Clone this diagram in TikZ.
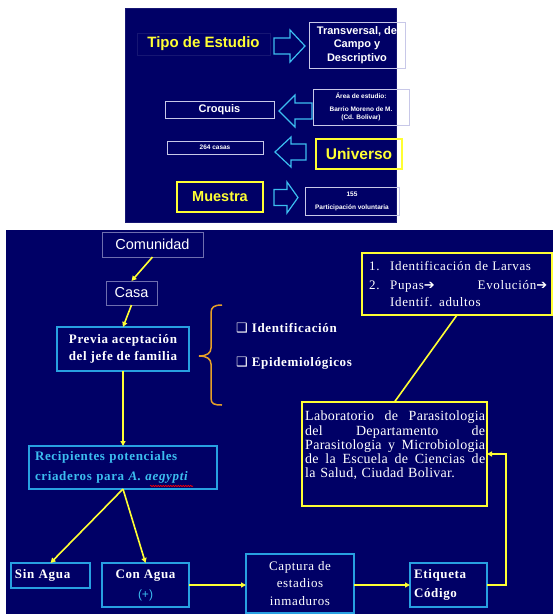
\documentclass[tikz,border=0pt]{standalone}
\usepackage{fontspec}
\setmainfont{Liberation Serif}
\newfontfamily\arialf{Liberation Sans}
\newfontfamily\dejavuf{DejaVu Sans}
\newfontfamily\spfont{Liberation Serif}[LetterSpace=5]
\newfontfamily\labfont{Liberation Serif}[LetterSpace=2]
\usetikzlibrary{arrows.meta,decorations.pathmorphing}
\definecolor{navy}{RGB}{0,0,102}
\definecolor{cyanb}{RGB}{40,160,225}
\definecolor{ctext}{RGB}{60,190,240}
\definecolor{ylw}{RGB}{255,255,51}
\definecolor{lav}{RGB}{200,200,232}
\definecolor{gblue}{RGB}{110,110,175}
\definecolor{orng}{RGB}{230,160,40}
\definecolor{arrcyan}{RGB}{60,190,240}
\definecolor{faint}{RGB}{22,22,115}
\tikzset{
  box/.style={draw, rectangle, inner sep=0pt, outer sep=0pt, align=center, text=white},
  topbox/.style={box, draw=lav, line width=1pt},
  ybox/.style={box, draw=ylw, line width=1.2pt},
  cbox/.style={box, draw=cyanb, line width=1.2pt},
  gbox/.style={box, draw=gblue, line width=1pt},
  ybig/.style={box, draw=ylw, line width=2.5pt},
  blockarrow/.style={draw=arrcyan, line width=1.2pt, fill=navy, line join=miter},
  conn/.style={draw=ylw, line width=1.6pt, -{Triangle[length=5pt,width=5pt]}},
  plainconn/.style={draw=ylw, line width=1.6pt},
  panel/.style={fill=navy, draw=faint, line width=0.6pt}
}
\newcommand{\heavyarrow}{{\dejavuf\bfseries\fontsize{13}{14}\selectfont ➔}}
\newcommand{\hollowbox}{{\dejavuf\mdseries\fontsize{13}{14}\selectfont ❑}}
\begin{document}
\begin{tikzpicture}[x=1pt,y=-1pt]
\useasboundingbox (0,0) rectangle (553,614);
\fill[white] (0,0) rectangle (553,614);
% ---------- top panel ----------
\path[panel] (125,8) rectangle (396,222);
\node[box, draw=faint, line width=0.6pt, minimum width=133, minimum height=22, text=ylw,
      font=\arialf\bfseries\fontsize{15}{18}\selectfont] (tipo) at (203.5,44) {Tipo de Estudio};
\path[blockarrow] (274,38) -- (290,38) -- (290,30) -- (305,46) -- (290,62) -- (290,54) -- (274,54) -- cycle;
\node[topbox, minimum width=96, minimum height=46, font=\arialf\bfseries\fontsize{11}{13.5}\selectfont] (transv) at (357,45)
  {Transversal, de\\Campo y\\Descriptivo};
\node[topbox, minimum width=96, minimum height=36, font=\arialf\bfseries\fontsize{6.5}{8}\selectfont] (area) at (361,107)
  {Área de estudio:\\[5pt]Barrio Moreno de M.\\(Cd. Bolivar)};
\path[blockarrow] (279,111) -- (295,95) -- (295,103) -- (312,103) -- (312,119) -- (295,119) -- (295,127) -- cycle;
\node[topbox, minimum width=109, minimum height=17, font=\arialf\bfseries\fontsize{11}{13}\selectfont] (croquis) at (219.5,109.5)
  {Croquis};
\node[topbox, minimum width=96, minimum height=13, font=\arialf\bfseries\fontsize{6.5}{8}\selectfont] (casas) at (215,147.5)
  {264 casas};
\path[blockarrow] (275,152) -- (291,137) -- (291,144) -- (306,144) -- (306,160) -- (291,160) -- (291,167) -- cycle;
\node[ybox, minimum width=86, minimum height=30, text=ylw, font=\arialf\bfseries\fontsize{15.5}{18}\selectfont] (universo) at (359,154)
  {Universo};
\node[ybox, minimum width=86, minimum height=30, text=ylw, font=\arialf\bfseries\fontsize{14.5}{17}\selectfont] (muestra) at (220,197)
  {Muestra};
\path[blockarrow] (274,189.5) -- (287,189.5) -- (287,182) -- (298,197.5) -- (287,213) -- (287,205.5) -- (274,205.5) -- cycle;
\node[topbox, minimum width=94, minimum height=28, font=\arialf\bfseries\fontsize{6.5}{8}\selectfont] (particip) at (352,201)
  {155\\[5pt]Participación voluntaria};
% ---------- bottom panel ----------
\fill[navy] (6,230) rectangle (553,614);
\node[gbox, minimum width=101, minimum height=25, font=\arialf\fontsize{14.5}{17}\selectfont] (comunidad) at (152.5,244.5)
  {Comunidad};
\node[gbox, minimum width=51, minimum height=24, font=\arialf\fontsize{14.5}{17}\selectfont] (casa) at (131.5,293)
  {Casa};
\node[cbox, minimum width=132, minimum height=44, font=\spfont\bfseries\fontsize{13}{17.5}\selectfont] (previa) at (123,349)
  {Previa aceptación\\del jefe de familia};
\draw[orng, line width=1.5pt]
  (222,305) .. controls (214,305) and (211,307) .. (211,313) -- (211,348)
  .. controls (211,353) and (207,356) .. (199,356)
  .. controls (207,356) and (211,359) .. (211,364) -- (211,398)
  .. controls (211,404) and (214,405) .. (222,405);
\node[anchor=west, text=white, inner sep=0pt, font=\spfont\bfseries\fontsize{13}{15}\selectfont] (ident) at (236,328)
  {\hollowbox\hspace{4pt}Identificación};
\node[anchor=west, text=white, inner sep=0pt, font=\spfont\bfseries\fontsize{13}{15}\selectfont] (epid) at (236,363)
  {\hollowbox\hspace{4pt}Epidemiológicos};
\node[ybig, minimum width=190, minimum height=62] (identif) at (457,284) {};
\node[anchor=north west, inner sep=0pt, text=white, text width=180, align=left,
      font=\spfont\fontsize{13}{17}\selectfont] (identiftxt) at ([xshift=7pt,yshift=-8pt]identif.north west)
  {\makebox[21pt][l]{1.}Identificación de Larvas\\[2pt]
   \makebox[21pt][l]{2.}\makebox[157pt][l]{Pupas\heavyarrow\hfill Evolución\heavyarrow}\\
   \hspace*{21pt}Identif. adultos};
\node[ybig, minimum width=185, minimum height=104] (lab) at (394.5,454) {};
\node[anchor=north west, inner sep=0pt, text=white, text width=180, align=left,
      font=\labfont\fontsize{14}{14.2}\selectfont] (labtxt) at ([xshift=3pt,yshift=-9pt]lab.north west)
  {\makebox[180pt][l]{Laboratorio\hfill de\hfill Parasitologia}\\
   \makebox[180pt][l]{del\hfill Departamento\hfill de}\\
   \makebox[180pt][l]{Parasitologia\hfill y\hfill Microbiologia}\\
   \makebox[180pt][l]{de\hfill la\hfill Escuela\hfill de\hfill Ciencias\hfill de}\\
   la Salud, Ciudad Bolivar.};
\node[cbox, minimum width=188, minimum height=43, text width=176, inner xsep=6pt, align=left, text=ctext,
      font=\spfont\bfseries\fontsize{13}{20}\selectfont] (recip) at (123,467.5)
  {Recipientes potenciales\\criaderos para \textit{A. aegypti}};
\node[cbox, minimum width=79, minimum height=25, text width=71, inner xsep=4pt, align=left,
      font=\spfont\bfseries\fontsize{13}{15}\selectfont] (sin) at (50.5,575.5)
  {Sin Agua};
\node[cbox, minimum width=87, minimum height=44, font=\spfont\bfseries\fontsize{13}{20}\selectfont] (con) at (145.5,585)
  {Con Agua\\{\arialf\mdseries\color{ctext}\fontsize{12}{14}\selectfont(+)}};
\node[cbox, minimum width=108, minimum height=59, font=\spfont\fontsize{13}{17.5}\selectfont] (captura) at (300,583.5)
  {Captura de\\estadios\\inmaduros};
\node[cbox, minimum width=77, minimum height=44, text width=69, inner xsep=4pt, align=left,
      font=\spfont\bfseries\fontsize{13}{19}\selectfont] (etiq) at (448.5,585)
  {Etiqueta\\Código};
% red spell-check underline
\draw[red, line width=0.6pt, decorate, decoration={snake, amplitude=0.7pt, segment length=2.5pt}] (150,486) -- (193,486);
% ---------- connectors ----------
\draw[conn] (comunidad.south) -- (casa.north);
\draw[conn] (casa.south) -- (previa.north);
\draw[conn] (previa.south) -- (recip.north);
\draw[conn] (recip.south) -- (sin.north);
\draw[conn] (recip.south) -- (con.north);
\draw[conn] (con.east) -- (captura.west |- con.east);
\draw[conn] (captura.east |- etiq.west) -- (etiq.west);
\coordinate (bend) at (506,585);
\draw[conn] (etiq.east) -- (bend) |- (lab.east);
\draw[plainconn] (lab.north) -- (identif.south);
\end{tikzpicture}
\end{document}
